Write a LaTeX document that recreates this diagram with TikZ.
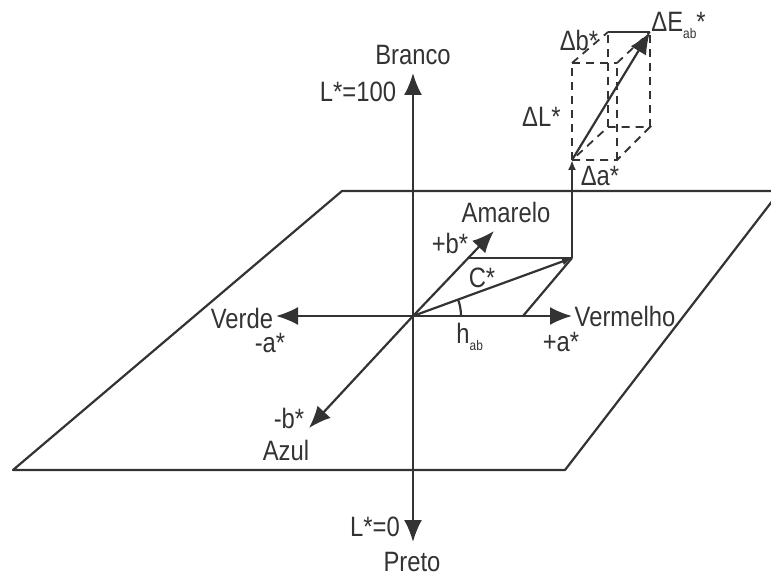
\documentclass[tikz,border=0pt]{standalone}
\usepackage{fontspec}
\setmainfont{Liberation Sans}
\usetikzlibrary{arrows.meta}
\definecolor{lc}{HTML}{333333}
\definecolor{tc}{HTML}{333333}
\newcommand{\nt}[1]{\scalebox{0.85}[1]{#1}}
\newcommand{\sbab}{\raisebox{-3.5pt}{\fontsize{7}{8}\selectfont ab}}
\begin{document}
\begin{tikzpicture}[x=0.5pt,y=-0.5pt,
  ln/.style={draw=lc,line width=1.1pt},
  ax/.style={ln,-{Latex[length=11pt,width=9pt]}},
  smax/.style={ln,-{Latex[length=5pt,width=4pt]}},
  dsh/.style={draw=lc,line width=0.9pt,dash pattern=on 4pt off 3pt},
  lbl/.style={font=\fontsize{14}{16}\selectfont,text=tc,inner sep=0pt}]
\useasboundingbox (0,0) rectangle (771,577);
% plane
\coordinate (P1) at (13,470);
\coordinate (P2) at (342,191);
\coordinate (P3) at (780,191);
\coordinate (P4) at (565,470);
\begin{scope}
\clip (0,0) rectangle (771,577);
\draw[ln,line join=round] (P1) -- (P2) -- (P3) -- (P4) -- cycle;
\end{scope}
% axes
\coordinate (O) at (413,316);
\coordinate (Lt) at (413,73);
\coordinate (Lb) at (413,542);
\coordinate (Ap) at (572,316);
\coordinate (Am) at (276,316);
\coordinate (Bp) at (494,231);
\coordinate (Bm) at (309,428);
\draw[ax] (O) -- (Lt);
\draw[ax] (O) -- (Lb);
\draw[ax] (O) -- (Ap);
\draw[ax] (O) -- (Am);
\draw[ax] (O) -- (Bp);
\draw[ax] (O) -- (Bm);
% chroma parallelogram
\coordinate (Aa) at (523,316);
\coordinate (Bb) at (469,258);
\coordinate (C) at (572,258);
\draw[ln] (Bb) -- (C);
\draw[ln] (Aa) -- (C);
\draw[smax] (O) -- (C);
\draw[ln] (461,316) arc[start angle=0,end angle=-20,radius=48];
% vertical to Delta E
\coordinate (F1) at (572,160);
\draw[smax] (C) -- (F1);
% box
\coordinate (F2) at (617,160);
\coordinate (B1) at (608,127);
\coordinate (B2) at (650,127);
\coordinate (T1) at (572,63);
\coordinate (T2) at (617,63);
\coordinate (T3) at (608,32);
\coordinate (T4) at (650,32);
\draw[dsh] (F1) -- (F2) -- (B2) -- (B1) -- cycle;
\draw[dsh] (T1) -- (T2);
\draw[dsh] (T1) -- (T3);
\draw[dsh] (T2) -- (T4);
\draw[dsh] (F1) -- (T1);
\draw[dsh] (F2) -- (T2);
\draw[dsh] (B1) -- (T3);
\draw[dsh] (B2) -- (T4);
\draw[ln] (T3) -- (T4);
\draw[ax] (F1) -- (T4);
% labels
\node[lbl] (branco) at (413,55) {\nt{Branco}};
\node[lbl] (l100) at (358,92) {\nt{L*=100}};
\node[lbl] (l0) at (375,527) {\nt{L*=0}};
\node[lbl] (preto) at (412,562) {\nt{Preto}};
\node[lbl] (amarelo) at (506,212) {\nt{Amarelo}};
\node[lbl] (bplus) at (450,243) {\nt{+b*}};
\node[lbl] (cstar) at (482,278) {\nt{C*}};
\node[lbl,anchor=west] (hab) at (456,337) {\nt{h\sbab}};
\node[lbl] (verm) at (625,316) {\nt{Vermelho}};
\node[lbl] (aplus) at (561,342) {\nt{+a*}};
\node[lbl] (verde) at (242,318) {\nt{Verde}};
\node[lbl] (aminus) at (270,343) {\nt{-a*}};
\node[lbl] (bminus) at (289,418) {\nt{-b*}};
\node[lbl] (azul) at (286,450) {\nt{Azul}};
\node[lbl] (db) at (579,40) {\nt{Δb*}};
\node[lbl,anchor=west] (dE) at (651,25) {\nt{ΔE\sbab*}};
\node[lbl,anchor=east] (dL) at (561,117) {\nt{ΔL*}};
\node[lbl] (da) at (600,176) {\nt{Δa*}};
\end{tikzpicture}
\end{document}
